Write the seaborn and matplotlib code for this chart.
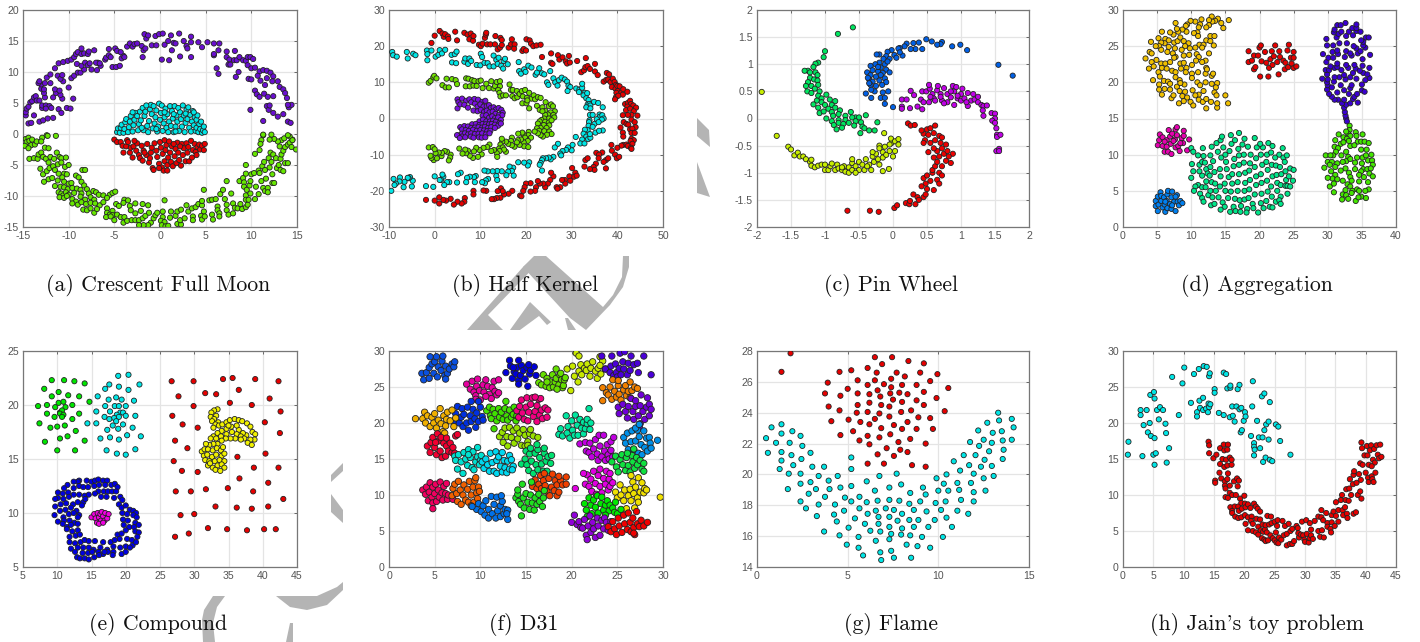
import matplotlib
matplotlib.use("Agg")
import matplotlib.pyplot as plt
from matplotlib.patches import Polygon
import pandas as pd
import seaborn as sns

# (a) crescent full moon
moon_purple = [(-14.7,3.0),(-14.7,3.5),(-14.6,4.1),(-14.4,1.7),(-14.1,1.8),(-14.4,4.4),(-14.2,5.1),(-14.0,5.3),(-13.8,5.9),(-13.6,6.1),(-13.5,5.4),(-13.8,3.0),(-13.2,5.4),(-12.9,4.2),(-12.9,4.6),(-12.5,4.6),(-12.1,4.5),(-12.5,4.1),(-11.9,4.2),(-13.2,2.0),(-12.8,2.2),(-12.3,2.5),(-11.7,2.6),(-11.1,4.0),(-10.8,3.4),(-10.2,4.2),(-9.8,4.1),(-9.5,5.7),(-10.7,5.7),(-11.4,6.6),(-10.9,6.3),(-11.7,5.9),(-12.6,5.9),(-12.7,6.6),(-13.0,7.3),(-13.0,8.0),(-12.7,7.2),(-13.3,8.2),(-13.2,8.5),(-12.6,8.2),(-12.0,8.2),(-11.5,7.2),(-11.0,7.0),(-10.6,8.5),(-10.0,7.5),(-12.4,9.1),(-12.0,9.6),(-11.2,9.4),(-10.9,8.9),(-10.7,9.5),(-9.7,9.0),(-9.4,9.4),(-9.0,9.9),(-8.7,9.9),(-8.3,10.4),(-7.5,10.4),(-6.9,10.3),(-6.5,11.0),(-6.8,11.5),(-11.5,10.6),(-11.1,11.4),(-10.6,11.6),(-10.1,11.8),(-9.7,12.0),(-9.4,12.4),(-9.2,12.9),(-9.0,13.2),(-8.6,12.9),(-8.3,13.0),(-7.9,12.9),(-7.8,13.3),(-7.2,13.5),(-8.6,13.8),(-9.1,11.3),(-8.6,11.0),(-8.2,11.5),(-7.9,11.1),(-7.7,11.4),(-7.0,11.5),(-6.6,11.4),(-6.0,12.0),(-5.9,12.3),(-5.6,12.7),(-5.4,12.4),(-5.6,13.7),(-5.2,10.8),(-4.8,10.8),(-4.4,11.0),(-4.2,12.2),(-4.0,12.6),(-4.9,13.8),(-4.7,13.4),(-4.3,13.2),(-3.9,12.4),(-3.6,14.1),(-3.3,14.6),(-3.0,14.1),(-2.8,14.5),(-2.5,14.6),(-2.0,14.2),(-1.8,13.5),(-1.9,12.4),(-1.6,13.8),(-1.5,15.4),(-1.7,16.1),(-1.3,15.9),(-0.9,14.3),(-0.4,14.3),(-0.5,15.8),(-0.1,16.1),(0.3,16.2),(0.5,14.4),(0.2,12.0),(1.0,11.9),(0.9,15.0),(1.2,15.9),(1.5,14.7),(1.3,13.5),(1.7,14.6),(2.1,16.2),(2.2,12.5),(2.6,15.0),(2.9,14.2),(3.0,13.8),(3.4,14.8),(3.4,12.4),(3.4,15.7),(4.2,14.8),(4.6,14.0),(5.2,14.8),(5.9,14.6),(5.9,12.7),(6.5,14.6),(6.4,13.5),(5.9,12.9),(6.2,10.6),(6.4,9.7),(7.3,13.3),(7.3,12.4),(7.6,12.0),(7.5,11.2),(7.7,11.2),(8.2,13.4),(8.1,11.9),(8.4,11.9),(8.3,9.2),(8.6,10.0),(8.7,12.4),(9.1,11.9),(9.4,11.8),(9.6,12.4),(9.9,12.4),(10.2,12.1),(9.7,8.9),(10.0,8.8),(9.6,11.1),(10.0,10.6),(10.4,10.7),(10.9,10.1),(10.7,9.4),(11.3,10.3),(11.7,10.2),(12.1,9.9),(12.4,9.3),(11.7,9.0),(11.0,8.6),(11.5,7.9),(10.4,7.0),(10.6,6.4),(10.9,6.0),(11.4,6.5),(11.8,6.0),(12.4,6.1),(12.3,8.5),(12.9,8.5),(13.1,7.6),(13.5,7.2),(13.7,6.6),(13.9,5.8),(11.3,2.1),(11.7,4.5),(11.9,3.9),(12.0,4.6),(12.4,3.4),(12.9,2.8),(13.5,3.2),(14.0,2.0),(14.3,1.8),(14.1,4.3),(14.4,4.7),(14.0,4.7),(9.9,3.9)]
moon_green = [(-14.7,-0.8),(-14.6,-1.3),(-14.8,-1.9),(-14.4,-0.6),(-14.3,-1.1),(-14.1,-1.8),(-14.0,-0.9),(-13.7,-1.7),(-13.5,-1.2),(-14.4,-2.3),(-14.3,-4.0),(-13.8,-3.9),(-13.4,-4.0),(-13.3,-3.3),(-13.0,-3.0),(-12.8,-3.7),(-12.9,-0.6),(-13.0,-1.2),(-12.4,-0.2),(-12.3,-0.3),(-11.4,-0.3),(-12.6,-2.2),(-12.2,-2.3),(-12.5,-4.0),(-12.0,-3.7),(-11.6,-4.0),(-12.2,-4.6),(-11.3,-3.0),(-11.0,-3.7),(-10.8,-3.9),(-10.3,-3.8),(-11.2,-4.9),(-10.8,-4.6),(-10.4,-5.3),(-10.0,-5.0),(-13.1,-5.6),(-12.8,-6.5),(-12.4,-6.0),(-12.1,-5.5),(-11.7,-5.2),(-11.5,-5.8),(-11.1,-6.4),(-10.5,-6.4),(-10.2,-6.5),(-9.2,-6.7),(-8.5,-5.8),(-8.2,-5.8),(-12.7,-7.7),(-12.2,-7.3),(-11.8,-7.1),(-11.2,-7.5),(-10.7,-7.0),(-10.5,-7.7),(-10.0,-8.0),(-9.7,-7.9),(-8.9,-7.0),(-8.6,-7.7),(-8.3,-8.3),(-11.5,-8.4),(-10.9,-8.5),(-10.5,-8.6),(-10.1,-8.9),(-9.6,-8.7),(-9.1,-8.8),(-8.7,-9.0),(-8.0,-8.9),(-11.1,-9.4),(-10.8,-9.6),(-10.6,-9.9),(-10.3,-9.4),(-10.0,-9.8),(-9.4,-9.5),(-8.6,-9.6),(-7.8,-9.6),(-7.3,-9.2),(-7.0,-9.4),(-6.7,-9.8),(-11.0,-10.2),(-10.5,-10.3),(-10.2,-10.0),(-9.6,-10.5),(-9.2,-10.9),(-8.7,-10.1),(-8.2,-10.6),(-7.6,-10.2),(-7.2,-10.6),(-6.2,-9.9),(-5.5,-9.8),(-5.2,-9.5),(-4.9,-9.3),(-5.8,-10.3),(-9.6,-11.2),(-9.0,-11.4),(-8.6,-11.0),(-8.1,-11.3),(-7.6,-11.1),(-7.1,-11.2),(-6.6,-11.5),(-6.2,-11.0),(-8.4,-12.2),(-8.0,-12.3),(-7.6,-12.0),(-7.2,-12.7),(-6.9,-12.1),(-5.8,-12.0),(-5.2,-12.4),(-4.8,-11.3),(-4.5,-11.6),(-3.9,-10.6),(-3.5,-10.7),(-4.0,-11.1),(-2.7,-11.2),(-3.3,-11.6),(-5.8,-12.7),(-5.5,-13.0),(-5.2,-13.1),(-4.7,-13.0),(-4.3,-13.4),(-5.9,-13.4),(-5.4,-13.3),(-5.0,-13.9),(-3.9,-13.4),(-4.0,-14.3),(-3.6,-14.0),(-3.1,-13.9),(-2.7,-13.9),(-2.3,-13.9),(-1.9,-13.6),(-1.6,-13.2),(-1.2,-12.7),(-2.1,-12.4),(-3.2,-12.3),(-1.9,-11.3),(-2.7,-12.8),(-1.3,-11.5),(-1.0,-14.3),(-1.3,-14.7),(-1.8,-14.7),(-2.3,-14.7),(-0.7,-13.6),(-0.5,-13.1),(-0.3,-12.7),(0.3,-12.5),(0.3,-13.4),(0.5,-10.7),(0.1,-14.0),(0.5,-14.2),(0.2,-14.7),(0.6,-14.9),(0.9,-14.8),(1.1,-13.5),(1.2,-12.5),(1.7,-13.2),(1.9,-12.5),(1.9,-14.5),(2.3,-14.6),(2.2,-13.9),(2.3,-12.2),(2.7,-13.6),(2.9,-11.5),(3.1,-12.5),(3.5,-12.0),(3.6,-13.3),(3.6,-13.9),(3.9,-11.8),(4.2,-11.3),(4.6,-11.5),(4.6,-10.8),(4.8,-12.5),(4.5,-13.2),(4.6,-13.8),(4.9,-13.3),(4.8,-9.0),(5.4,-10.7),(5.7,-10.6),(5.7,-13.0),(5.8,-13.8),(6.1,-10.5),(6.3,-11.7),(6.3,-12.3),(6.5,-12.8),(6.5,-13.3),(6.6,-9.7),(6.9,-9.0),(7.1,-10.5),(7.3,-11.4),(7.3,-12.3),(7.5,-13.0),(7.3,-7.6),(7.8,-9.6),(8.0,-11.2),(8.2,-11.9),(8.0,-12.8),(8.5,-12.0),(8.8,-11.3),(9.0,-12.1),(8.7,-7.6),(9.1,-7.1),(9.2,-7.8),(9.4,-6.4),(9.2,-8.5),(9.5,-9.0),(9.4,-9.9),(9.4,-10.6),(9.4,-11.8),(9.6,-11.4),(9.7,-10.6),(9.9,-9.6),(9.8,-8.3),(9.9,-7.6),(10.0,-6.5),(9.4,-5.0),(10.3,-6.3),(10.4,-10.5),(10.5,-8.5),(10.8,-9.7),(10.8,-5.9),(10.9,-6.3),(11.1,-7.6),(11.2,-5.2),(11.3,-8.7),(11.4,-4.5),(11.5,-5.8),(11.6,-7.2),(11.5,-9.2),(11.8,-8.7),(11.8,-9.4),(11.9,-3.9),(12.0,-5.4),(12.2,-4.5),(12.3,-6.5),(12.3,-7.9),(12.5,-7.9),(12.1,-3.0),(12.4,-3.3),(12.7,-3.9),(12.8,-5.5),(13.2,-5.8),(13.5,-6.0),(13.0,-5.0),(13.2,-4.0),(13.3,-3.3),(13.5,-2.7),(13.7,-4.7),(14.0,-4.7),(13.7,-2.1),(14.0,-1.7),(14.2,-1.4),(14.5,-0.9),(14.4,-2.1),(14.9,-2.5),(14.2,-0.4),(14.5,-1.0),(13.3,-1.0),(13.6,-0.7),(14.0,-0.2),(13.1,-2.0),(12.9,-1.2),(12.5,-0.8),(11.3,-0.2),(11.3,-0.1),(12.2,-0.1),(11.1,-1.0),(11.0,-1.6),(10.9,-2.6),(12.0,-0.9),(10.4,-3.2)]
moon_cyan = [(-4.7,0.3),(-4.6,0.9),(-4.4,0.2),(-4.3,1.0),(-4.2,1.5),(-4.0,0.2),(-3.9,0.8),(-3.8,1.9),(-3.7,2.4),(-3.5,0.3),(-3.4,1.1),(-3.3,2.0),(-3.2,2.9),(-3.0,0.4),(-2.9,1.4),(-2.8,2.3),(-2.7,3.4),(-2.5,2.9),(-2.4,0.6),(-2.3,1.6),(-2.2,3.6),(-2.1,2.2),(-1.9,4.2),(-1.8,0.6),(-1.7,2.9),(-1.6,3.6),(-1.4,1.3),(-1.3,0.3),(-1.2,2.1),(-1.1,4.0),(-1.0,4.7),(-0.9,3.2),(-0.8,0.9),(-0.7,4.5),(-0.6,1.7),(-0.5,2.7),(-0.4,3.8),(-0.3,0.4),(-0.2,1.2),(-0.1,4.9),(0.0,2.3),(0.1,3.4),(0.2,4.6),(0.3,0.5),(0.4,1.7),(0.5,2.7),(0.6,4.1),(0.7,1.0),(0.8,3.2),(0.9,0.3),(1.0,2.0),(1.1,4.5),(1.2,1.3),(1.3,3.7),(1.4,2.5),(1.5,0.3),(1.6,4.5),(1.7,1.2),(1.8,3.0),(1.9,2.0),(2.0,4.2),(2.1,0.5),(2.2,3.5),(2.3,2.4),(2.4,1.2),(2.5,4.6),(2.6,3.0),(2.7,0.3),(2.8,1.8),(2.9,3.9),(3.0,2.4),(3.1,4.3),(3.2,1.0),(3.3,3.1),(3.4,0.4),(3.5,2.0),(3.6,3.7),(3.7,1.4),(3.8,2.7),(3.9,0.5),(4.0,1.0),(4.0,2.3),(4.1,3.0),(4.2,0.3),(4.3,1.6),(4.4,0.8),(4.5,2.0),(4.6,0.2),(4.7,0.6),(4.8,1.2),(4.9,0.3),(-1.5,4.6),(-3.0,3.5),(0.5,3.5),(1.7,0.4),(-2.0,1.0),(2.8,3.3),(-0.4,0.8),(1.5,3.2),(3.7,3.5)]
moon_red = [(-5.0,-0.9),(-4.7,-1.3),(-4.3,-1.3),(-4.1,-1.9),(-3.6,-1.0),(-3.7,-2.0),(-3.5,-1.3),(-4.0,-3.0),(-3.3,-3.0),(-3.2,-2.2),(-3.0,-3.8),(-2.9,-2.0),(-2.6,-2.7),(-2.5,-1.5),(-2.3,-3.4),(-2.2,-3.9),(-2.0,-1.9),(-1.9,-4.3),(-1.8,-2.7),(-1.5,-3.4),(-1.4,-1.6),(-1.2,-4.6),(-1.0,-3.0),(-0.9,-2.2),(-0.8,-5.5),(-0.7,-5.8),(-0.6,-1.5),(-0.4,-2.7),(-0.3,-3.7),(-0.1,-4.8),(0.0,-1.3),(0.1,-2.2),(0.2,-5.4),(0.3,-3.2),(0.4,-5.9),(0.5,-1.0),(0.5,-4.4),(0.6,-2.6),(0.7,-1.8),(0.8,-5.0),(0.8,-5.9),(0.9,-3.8),(1.0,-1.2),(1.1,-3.0),(1.2,-4.5),(1.3,-2.0),(1.4,-5.2),(1.6,-3.6),(1.7,-2.4),(1.8,-4.7),(1.9,-1.4),(2.0,-3.0),(2.1,-4.2),(2.3,-5.1),(2.4,-1.6),(2.5,-3.4),(2.6,-2.3),(2.8,-4.4),(2.9,-1.5),(3.0,-3.0),(3.1,-2.1),(3.2,-4.4),(3.4,-1.1),(3.5,-3.8),(3.6,-2.6),(3.8,-1.6),(3.9,-2.9),(4.0,-3.4),(4.1,-2.1),(4.3,-1.7),(4.4,-2.5),(4.6,-1.9),(4.8,-2.6),(4.9,-1.6),(-2.8,-1.1),(-1.1,-3.9),(1.5,-1.6),(-0.1,-5.5),(-1.7,-3.0),(2.2,-2.0)]

# (b) half kernel
kernel_purple = [(5,5.3),(5.2,4.5),(6,5.5),(6.9,4.9),(7.6,5.3),(8.7,5.4),(9.5,5.2),(10.4,4.6),(11.1,4.9),(5,2.8),(5.6,3.9),(6.5,3.8),(7.3,3.0),(8,4.5),(8.8,4.1),(9.4,3.3),(10,3.9),(10.7,3.3),(11.4,3.4),(11.9,3.7),(12.3,2.9),(12.9,3.1),(13.4,2.5),(14,2.9),(14.6,2.4),(14.9,1.6),(8.5,2.2),(9.4,2.0),(10.1,2.4),(10.8,1.8),(11.4,2.2),(12,1.7),(12.7,1.9),(13.3,1.3),(14.1,1.0),(14.8,0.9),(10.5,0.8),(11.3,0.9),(11.9,0.2),(12.6,0.6),(13.2,0.1),(13.9,0.3),(14.5,-0.4),(9.8,-0.8),(10.6,-0.3),(11.3,-0.8),(12.1,-0.8),(12.8,-0.6),(13.4,-0.9),(14.2,-1.2),(8.2,-1.6),(9,-1.5),(9.8,-1.8),(10.5,-1.5),(11.2,-1.6),(11.9,-1.6),(12.5,-1.5),(13.2,-1.7),(13.9,-2.0),(14.5,-1.4),(5.6,-2.4),(6.5,-2.1),(7.3,-2.2),(8,-2.6),(8.8,-2.5),(9.6,-2.4),(10.4,-2.5),(11,-2.3),(11.7,-2.6),(12.4,-2.4),(13.2,-2.6),(6,-3.0),(6.8,-3.2),(7.5,-3.4),(8.4,-3.1),(9.2,-3.4),(10,-3.2),(10.8,-3.3),(11.5,-3.5),(12.2,-3.4),(5.2,-4.7),(5.9,-4.2),(6.6,-4.1),(7.3,-4.4),(8,-4.1),(8.8,-4.3),(9.6,-4.2),(10.4,-4.1),(11.2,-4.4),(12,-4.1),(4.9,-4.6),(6,-5.0),(6.7,-5.2),(7.9,-5.0),(8.5,-5.3),(9.7,-5.2),(10.3,-5.3),(11.1,-5.2),(5.5,-5.4)]
kernel_green = [(-1.3,9.9),(-0.9,10.4),(-0.3,11.4),(-0.1,11.8),(0.4,11.1),(1.7,9.2),(2.4,8.6),(2.6,11),(3.1,8.6),(3.8,10.9),(4.6,10.6),(4.9,9.5),(6.8,8.9),(6.9,11.1),(7.4,11),(7.7,8.9),(8.2,10.6),(8.5,9.1),(8.7,10.4),(9.2,9),(9.6,10.3),(10.1,10.5),(10.5,8.4),(11.3,9.6),(11.9,8.4),(12.4,10.3),(12.9,8.3),(13.2,9),(13.6,10.1),(14.3,10.3),(14.3,8.9),(13.9,7.9),(14.2,7.1),(14.4,6.1),(15,6.4),(15.6,6.4),(16.4,9.4),(16.7,7.9),(17.1,7.9),(17,6.2),(17.5,5.6),(18,7.6),(18.1,5.9),(18.6,6.8),(19.1,7.6),(19.3,6.1),(19.8,7.9),(20.2,5.7),(20.7,7.1),(21.2,5.5),(21.7,6.4),(22,5.3),(22.6,5.9),(23.2,5.7),(19.2,4.2),(20.1,4.2),(20.3,5.0),(20.7,2.8),(22.4,3.5),(23,2.4),(23.6,3.1),(24.2,2.1),(24.3,4.5),(25,3.4),(25.5,3.9),(25.9,3.4),(26.3,2.0),(25.4,1.7),(24.8,1.1),(24.2,1.0),(23.6,2.0),(26,1.0),(26.2,0.3),(25,0),(24,0),(23.4,-0.4),(23,-0.8),(24.2,-0.9),(25,-1.1),(25.6,-0.5),(22.6,-1.4),(23.9,-1.8),(25.1,-1.9),(24.5,-2.6),(23.2,-2.6),(22.4,-2.7),(22.9,-3.4),(24,-3.5),(25.1,-3.6),(25.6,-4.3),(24.6,-4.5),(23.7,-5.0),(23.2,-4.6),(22.6,-4.1),(21.9,-3.6),(20.6,-3.7),(20.5,-4.6),(19.5,-4.5),(19.2,-3.9),(18.3,-4.2),(21.1,-5.3),(19.8,-5.3),(20.4,-6.2),(19.5,-6.6),(18.9,-5.8),(18.2,-6.0),(19.6,-7.7),(20.5,-7.9),(18.6,-7.3),(18,-6.6),(17.5,-7.8),(16.9,-5.3),(16.7,-6.2),(16.9,-7.4),(16.1,-7.0),(15.6,-6.4),(14.8,-6.4),(14.7,-5.6),(14.4,-7.2),(14.1,-8.3),(14.9,-8.0),(15.6,-9.2),(15.2,-8.6),(14.2,-9.0),(13.6,-9.6),(13.7,-10.6),(13,-8.7),(12.4,-9.0),(12,-7.2),(11.5,-7.9),(10.7,-8.1),(10.3,-9.9),(9.8,-8.7),(9.5,-10.6),(9.1,-8.1),(8.6,-9.1),(8.4,-10.9),(7.7,-10.3),(7.3,-8.9),(6.9,-9.6),(6.7,-8.6),(6.1,-9.7),(5.4,-8.3),(3.5,-10),(3.4,-10.8),(3.1,-11.6),(2.7,-9.2),(2.2,-9.0),(1.5,-10.4),(1.6,-9.5),(0.9,-9.4),(0.2,-9.6),(-0.2,-11.5),(-0.7,-10.9),(-0.9,-10.3),(-1.3,-8),(-0.4,-7.9),(0,-8.5),(0.5,-11)]
kernel_cyan = [(-9.3,18.4),(-9.1,17.5),(-8.3,17.1),(-6.1,18.4),(-5.9,16.6),(-4.7,17.9),(-4.2,17.5),(-1.7,18.8),(-1.6,17.8),(-1.6,16.1),(-0.7,18.8),(0.2,17.1),(0.8,17.6),(1.1,18.9),(1.6,18),(2.3,19),(3.7,17.6),(3.8,15.5),(4.4,17.8),(4.7,15.3),(4.8,18.5),(6.5,15.7),(6.7,16.6),(7.3,15.1),(7.6,16.6),(8,15.9),(9.2,14.8),(10,14.7),(10.1,17.9),(10.4,17),(10.9,15.4),(11.6,15.3),(12,14.4),(12.9,14.4),(12.9,17.4),(13.5,16.2),(14,16.8),(13.8,15.1),(14.6,14.6),(15.1,15.9),(15,13.8),(15.4,16.5),(16,15),(18.4,15.6),(18.5,13.1),(18.9,12.4),(19.6,13.6),(19.9,12.9),(20.5,14.6),(21.2,14.1),(22.1,12.1),(22.4,12.7),(22.9,13.9),(23.5,12.5),(24,12.2),(24.6,10),(24.9,9.3),(25.3,13.1),(26,11.1),(26.4,10),(26.9,9.1),(27.2,10.6),(27.8,11.3),(28.5,10.8),(29,10.2),(29.3,9.1),(29.7,8.7),(29.1,7.6),(31,8.3),(31.7,8.0),(31.6,7.3),(32.3,8.5),(32.3,9.6),(32.9,7.1),(32.6,6.4),(33.4,7),(33.2,5.6),(33.7,5.1),(33.5,3.9),(33.9,4.0),(34.1,3.6),(33.2,3.1),(34.1,2.8),(34.9,4.6),(35.8,4.3),(36.8,3.1),(36.1,1.1),(36.2,0.5),(36.7,0.9),(37,0),(36.6,-0.3),(35.5,-0.2),(34,1),(34.6,1.0),(33.9,-0.5),(33.8,-1),(35,-1.5),(35.9,-1.0),(33.7,-2),(34.6,-2.3),(36.8,-3.3),(35.2,-3.9),(36,-3.4),(33.5,-3.2),(32.9,-3.1),(32.6,-4.2),(33.2,-5),(33.6,-5.7),(34.1,-5.3),(34,-4.3),(32.3,-5.8),(30.9,-5.1),(31.9,-6.9),(32.8,-6.9),(30.2,-7.3),(30,-8.8),(29.2,-8),(28.8,-8.7),(28,-9.0),(27.5,-9.7),(27.7,-10.2),(27,-7),(26.3,-8),(26,-10.6),(25.4,-11.3),(25,-10.8),(24.4,-11),(23.7,-11),(23.5,-11.5),(23.2,-12.3),(23,-12.8),(23.5,-14.4),(20.7,-12.1),(20.4,-13),(19.6,-12.2),(18.3,-12.1),(17.2,-13.6),(16.4,-13.3),(16.9,-14.5),(17.3,-15.8),(16.1,-14.7),(15.7,-15.7),(14.7,-14.6),(13.7,-14.5),(13.5,-15.9),(13.7,-17),(12.7,-14.6),(11.6,-14.6),(10.9,-14.4),(11.7,-16.7),(11.2,-17.1),(11,-17.9),(10.4,-17.6),(9,-15.9),(8.6,-16.2),(8.8,-17.6),(7.7,-16.1),(7.1,-16.4),(6.9,-17.6),(5.7,-15),(5.1,-15.4),(4.9,-17.7),(3.2,-17.6),(2.7,-17.6),(2.1,-18.4),(1.9,-16.1),(1.7,-15.5),(1.4,-17),(1.1,-17),(0,-16),(-0.3,-18.9),(-1.9,-18.7),(-4.8,-17.2),(-5,-18.8),(-5.4,-16.2),(-5.7,-16.5),(-5.9,-16.4),(-6.6,-17.5),(-6.8,-19),(-7.6,-16.3),(-7.7,-17.4),(-8.5,-18),(-8.8,-18.4),(-9,-16.7),(-9.5,-20)]
kernel_red = [(-0.7,20.9),(0,22.9),(1.1,24.2),(1.7,23.5),(2,22.6),(2.3,23.3),(2.9,22.7),(3,22),(4.5,24),(4.9,21.6),(6.5,23.7),(7.2,23.2),(7.6,21.9),(7.9,23.5),(8.4,21.5),(8.5,22.8),(9.7,20.4),(10.1,20),(10.5,20.7),(11,22.3),(11.2,23.2),(11.3,23.7),(11.5,20.5),(12.2,20.5),(13.2,20.5),(13.3,22.8),(13.8,19.1),(14.3,19.6),(14.4,22.3),(14.7,20.3),(14.7,21.7),(16.2,19.6),(16.7,20.5),(16.9,21.9),(17.5,20.5),(17.4,19.3),(19.2,18.7),(19.5,19.2),(20,18.8),(20.1,21.9),(20.8,21.6),(21.1,20.7),(21.6,20),(22.3,20.2),(23.2,20.4),(23.5,17),(25.5,18),(25.5,15.4),(25.8,15.1),(27,17.5),(27.3,16.3),(28,16.9),(28.7,15.8),(29,15.2),(29.6,15.5),(29.4,17.3),(31.2,15.9),(32.1,12.8),(32.7,13.3),(33,14.2),(33.1,16.7),(33.5,14.5),(34,13.7),(35.1,15.1),(35.1,13),(35.7,12),(37,10.2),(37.6,10.7),(37.7,12.6),(38,10.8),(38.2,12.2),(38.5,10.1),(39,11),(39.4,10.1),(39.7,9.3),(38.8,8.7),(39.6,8.2),(40.1,7.6),(40,9),(40.5,8.9),(39.8,7.1),(40.9,7.2),(41.2,6.6),(41.3,8.1),(42.2,7.4),(39.7,5.9),(40.2,6.3),(39.5,5.3),(41.7,4),(42.3,4.3),(42.8,4.9),(43,4),(43.5,3.6),(44.1,3),(42.2,3.3),(41.9,2.3),(42.8,2.7),(43.6,2),(44.4,0.8),(43.1,1),(42.3,1),(41.2,0.9),(43.1,-0.3),(43.8,-1),(41.4,-1),(42,-1.5),(42.4,-1.7),(40.7,-2.5),(42.8,-3),(44,-2.4),(43.3,-2.8),(41.2,-3.9),(43.1,-4),(43.8,-4),(41.3,-5),(43.1,-5.6),(43.6,-6),(42.9,-6.2),(43.3,-7),(41.3,-7.3),(42,-7.2),(42.3,-7.6),(43,-8.1),(43.1,-8.4),(40.9,-7.5),(40,-8.1),(38.7,-7.3),(38.8,-8.9),(37.5,-11.5),(38,-11),(39.5,-10),(39.9,-11),(40.4,-10.6),(35.4,-9.5),(36.7,-9.4),(36,-10),(37,-12),(35.9,-11),(37.5,-13.8),(35.3,-12.5),(34.8,-13.4),(35,-14.2),(34,-14),(33,-11.5),(33.5,-11),(32.8,-13.3),(30.1,-13.7),(30.8,-15),(30.5,-16.1),(31.1,-15.8),(29.5,-16),(28.5,-17),(29.7,-17.2),(28.6,-18),(27.9,-17),(27.5,-19),(26.7,-19),(26.9,-19.4),(26,-16),(25.5,-15),(25.3,-17),(24.8,-18),(24.2,-19),(23.8,-18),(23,-18),(22.6,-17.3),(22.2,-19),(22,-20),(21,-20.2),(21,-17.9),(20,-18),(19.7,-19),(19.4,-20),(18.7,-21.3),(19,-21.5),(17,-20),(16.2,-20.8),(15.2,-21),(14.5,-19.3),(14.4,-21.9),(14.9,-20.1),(13.8,-20.1),(13.6,-22),(13,-22.3),(12.5,-22.3),(11.3,-20),(10.7,-19.9),(8.5,-20),(8.5,-21),(6.6,-22),(6.5,-23),(5.9,-23.5),(5,-23),(4.2,-23.8),(3.5,-22.2),(2.5,-22.7),(1.9,-22.5),(1,-23.5),(1,-21.8),(0,-22.7),(-1.9,-22.5)]

# (c) pin wheel
wheel_blue = [(1.76,0.79),(1.55,0.99),(1.09,1.26),(0.99,1.36),(0.87,1.33),(0.72,1.41),(0.7,1.37),(0.65,1.36),(0.49,1.46),(0.57,1.42),(0.43,1.28),(0.38,1.4),(0.33,1.28),(0.3,1.39),(0.2,1.38),(0.17,1.33),(0.1,1.3),(0.08,1.29),(-0.02,1.26),(0.02,1.17),(-0.08,1.23),(-0.1,1.15),(-0.2,1.18),(0.14,1.16),(-0.24,1.18),(-0.14,1.1),(-0.05,1.1),(0.05,1.12),(-0.2,1.03),(-0.12,1.0),(-0.18,0.94),(-0.26,1),(-0.33,0.97),(-0.3,0.89),(-0.22,0.87),(-0.1,0.9),(-0.05,0.85),(-0.15,0.84),(-0.38,0.85),(-0.33,0.8),(-0.25,0.77),(-0.18,0.8),(-0.12,0.74),(-0.35,0.72),(-0.3,0.68),(-0.2,0.7),(-0.1,0.67),(-0.33,0.62),(-0.25,0.6),(-0.16,0.62),(-0.27,0.5),(-0.32,0.53),(-0.15,0.48),(-0.07,0.5),(-0.4,0.46),(-0.32,0.38),(-0.18,0.38),(-0.12,0.38),(-0.12,0.27),(-0.37,0.75),(-0.35,0.65),(-0.22,0.95),(0.0,0.21),(0.26,1.28),(-0.08,1.05),(0.1,1.22)]
wheel_magenta = [(0.13,0.35),(0.2,0.35),(0.26,0.51),(0.31,0.43),(0.13,0.22),(0.13,0.18),(0.25,0.19),(0.36,0.22),(0.43,0.17),(0.41,0.35),(0.43,0.5),(0.49,0.5),(0.54,0.55),(0.53,0.62),(0.58,0.45),(0.45,0.3),(0.53,0.3),(0.6,0.37),(0.65,0.52),(0.66,0.6),(0.7,0.45),(0.72,0.33),(0.75,0.56),(0.8,0.45),(0.8,0.3),(0.85,0.39),(0.88,0.6),(0.9,0.5),(0.9,0.25),(0.95,0.37),(0.93,0.58),(1,0.45),(1,0.33),(1.05,0.37),(1.1,0.47),(1.1,0.23),(1.15,0.33),(1.18,0.45),(1.2,0.35),(1.25,0.4),(1.25,0.3),(1.3,0.25),(1.33,0.23),(1.38,0.24),(1.32,0.15),(1.33,0.05),(1.45,0.1),(1.5,0.09),(1.5,0),(1.46,-0.04),(1.5,-0.08),(1.52,-0.18),(1.53,-0.3),(1.53,-0.34),(1.58,-0.3),(1.52,-0.6),(1.56,-0.56),(1.56,-0.6),(0.7,0.4),(0.55,0.4),(0.95,0.42),(1.08,0.3),(0.75,0.28),(0.62,0.33),(0.85,0.5),(1.02,0.55)]
wheel_green = [(-0.59,1.68),(-0.81,1.56),(-1,1.24),(-1.02,1.13),(-1.1,1.03),(-1.14,1.01),(-1.17,0.95),(-1.25,0.88),(-1.3,0.88),(-1.22,0.85),(-1.14,0.85),(-1.11,0.8),(-1.22,0.75),(-1.16,0.72),(-1.25,0.67),(-1.11,0.7),(-1.28,0.6),(-1.2,0.6),(-1.1,0.62),(-1.26,0.5),(-1.15,0.55),(-1.08,0.5),(-1.2,0.47),(-1.1,0.42),(-0.98,0.44),(-1.05,0.37),(-1.12,0.33),(-1.05,0.3),(-0.93,0.35),(-0.85,0.32),(-1.17,0.26),(-1,0.25),(-0.9,0.25),(-1.1,0.2),(-0.95,0.18),(-0.85,0.2),(-1.08,0.1),(-1.02,0.13),(-0.9,0.12),(-0.78,0.15),(-0.98,0.0),(-0.88,0.05),(-0.8,0.08),(-0.7,0.05),(-0.62,0.12),(-0.55,0.02),(-0.9,-0.05),(-0.8,-0.03),(-0.7,-0.03),(-0.6,0.02),(-0.5,0.02),(-0.87,-0.12),(-0.8,-0.08),(-0.73,-0.1),(-0.65,-0.08),(-0.55,-0.05),(-0.83,-0.2),(-0.75,-0.17),(-0.57,-0.13),(-0.47,-0.07),(-0.45,-0.15),(-0.4,0.06),(-0.23,-0.07),(-0.42,-0.18),(-0.35,-0.22),(-0.27,-0.22),(-0.48,-0.27)]
wheel_yellow = [(-1.93,0.49),(-1.71,-0.32),(-1.54,-0.52),(-1.5,-0.57),(-1.45,-0.68),(-1.4,-0.63),(-1.37,-0.7),(-1.32,-0.7),(-1.28,-0.75),(-1.22,-0.8),(-1.2,-0.76),(-1.2,-0.87),(-1.15,-0.9),(-1.1,-0.87),(-1.05,-0.85),(-1,-0.85),(-1,-0.95),(-0.95,-0.95),(-0.92,-0.88),(-0.9,-0.83),(-0.85,-0.95),(-0.82,-0.85),(-0.8,-0.92),(-0.75,-0.95),(-0.72,-0.88),(-0.7,-0.98),(-0.65,-1),(-0.65,-0.9),(-0.6,-0.95),(-0.6,-0.82),(-0.55,-0.88),(-0.5,-0.95),(-0.5,-0.8),(-0.45,-0.85),(-0.42,-0.95),(-0.4,-0.75),(-0.35,-0.85),(-0.3,-0.7),(-0.32,-0.95),(-0.28,-0.8),(-0.25,-0.65),(-0.22,-0.75),(-0.2,-0.85),(-0.15,-0.62),(-0.15,-0.72),(-0.1,-0.67),(-0.05,-0.6),(-0.15,-0.97),(-0.06,-0.93),(0,-0.7),(-0.02,-0.45),(-0.12,-0.52),(-0.05,-0.48),(-0.03,-0.37),(0.03,-0.42),(0.08,-0.38),(0.03,-0.6),(0.08,-0.48),(-0.13,-0.27),(-0.2,-0.5),(-0.2,-0.55),(-0.3,-0.62),(-0.38,-0.88),(-0.55,-1),(-0.75,-0.9),(-0.6,-0.75)]
wheel_red = [(-0.67,-1.7),(-0.34,-1.7),(-0.21,-1.72),(0.02,-1.65),(0.06,-1.6),(0.19,-1.56),(0.24,-1.58),(0.25,-1.52),(0.3,-1.4),(0.33,-1.58),(0.36,-1.45),(0.38,-1.5),(0.45,-1.45),(0.48,-1.4),(0.48,-1.2),(0.42,-1.25),(0.45,-1.1),(0.5,-1.3),(0.55,-1.15),(0.5,-1.05),(0.58,-1.0),(0.65,-1.13),(0.58,-0.95),(0.6,-1.32),(0.68,-1.2),(0.62,-0.88),(0.68,-1),(0.72,-1.05),(0.65,-0.8),(0.72,-0.88),(0.6,-0.72),(0.68,-0.7),(0.78,-0.78),(0.85,-0.82),(0.88,-0.65),(0.82,-0.7),(0.75,-0.65),(0.65,-0.6),(0.72,-0.55),(0.8,-0.6),(0.52,-0.62),(0.6,-0.55),(0.7,-0.45),(0.78,-0.48),(0.55,-0.45),(0.62,-0.4),(0.68,-0.32),(0.72,-0.35),(0.45,-0.28),(0.52,-0.3),(0.6,-0.27),(0.47,-0.4),(0.45,-0.45),(0.42,-0.22),(0.5,-0.2),(0.55,-0.18),(0.62,-0.13),(0.22,-0.09),(0.26,-0.13),(0.32,-0.12)]

# (d) aggregation
agg_yellow = [(15.5,28.6),(14.7,27.5),(14.4,28.2),(13.9,28.8),(13.5,28.5),(13.1,28.4),(13,29.1),(12.6,28.6),(12.6,27.9),(12.2,27.6),(11.5,28.7),(11.3,28),(11.1,27.6),(10.6,28.4),(10.9,26.9),(9.9,28.5),(9.4,28),(9.2,27.8),(9.3,27),(8.7,27.3),(8.1,27),(7.7,28.2),(7.9,27.4),(7.4,26.6),(6.9,26.9),(5.7,27),(5.2,26.1),(6.2,26),(6.7,25.8),(7.5,25.5),(8,25.7),(8.4,26.2),(8.9,25.7),(9.6,25.4),(10.4,26.8),(11,26.4),(12.2,25.8),(12.8,26.4),(13.4,26.4),(12.8,25.7),(13.3,25.1),(11.2,25.2),(11.8,25.2),(10.6,24.8),(9.1,25),(8.6,24.5),(7.6,24.7),(6.7,24.9),(6.1,25.4),(5.6,25.5),(5.3,25),(4.8,25),(4.1,25.6),(3.9,24.2),(4.2,24),(5.6,24.5),(6.5,24.2),(7.3,24),(7.7,23.5),(8.9,23.7),(9.7,23.8),(10.8,23.9),(11.1,23.5),(11.6,24.8),(12.1,23),(12.6,24),(4.9,23.1),(3.3,23.3),(4.2,22.8),(5.6,22.6),(6.2,22.6),(6.9,22.8),(7.5,23.4),(8.4,22.6),(8.9,22.7),(9.3,22),(10.1,22.4),(10.7,23),(11.6,22.8),(12.2,22),(3.8,21.9),(4.5,22.2),(5.2,21.4),(5.7,22),(6.4,21.9),(7.2,21.6),(7.7,21.4),(8.5,21.9),(9.2,21.4),(10.1,21.2),(11,21.4),(12.1,21.2),(12.3,21.8),(13,20.9),(13.2,21.2),(4.4,20.3),(5.4,20.8),(6,20.2),(6.6,20.1),(6.9,19.8),(7.7,20.7),(8.3,20.3),(9,19.7),(10.1,20.6),(10.9,20),(11.3,19.6),(12.1,20),(13,19.8),(13.8,19.9),(13.6,19.3),(5.3,19.7),(5.3,19),(6.1,19.1),(6.9,19),(7.9,19.4),(8.3,18.8),(9.1,18.7),(10.2,18.9),(11.1,18.3),(11.8,18.8),(13.4,18.6),(13.7,18.2),(5.7,18.3),(7.1,17.8),(7.4,18.2),(8.7,18.1),(9.4,17.9),(8.2,17.1),(8.9,17.4),(9.9,17.3),(10.3,16.8),(11.1,17.6),(11.7,17.3),(12.2,17.7),(12.2,16.4),(12.9,17.3),(13.8,16.5),(13.8,17.1),(15,18.2),(15.4,17.1),(10.6,18.2),(8.4,19.9),(9.8,24.7)]
agg_red = [(18.4,24.3),(18.4,22.8),(18.9,23),(19.2,23.7),(19.2,21.8),(19.4,22.1),(19.8,23.7),(20,24.8),(20.2,25.1),(20.1,20.8),(20.3,22.9),(20.8,24.2),(21,22.7),(21.3,20.8),(21.4,22),(21.6,23.2),(21.8,24.3),(21.9,22.4),(22.1,23.6),(22.3,25.1),(22.6,22.8),(22.8,21.1),(22.9,24.3),(23,23.5),(23.5,23),(23.7,21.8),(23.8,22.7),(24.1,24.4),(24.3,25.2),(24.6,23.4),(24.2,22.1),(25,24.2),(25,22),(25.4,22.2),(25,23.4),(24.7,22.6)]
agg_blue_top = [(32.7,15),(32.8,14.6),(32.6,15.4),(32.5,15.9),(32.4,16.5),(32.7,16.9),(33.3,17.1),(34.4,17.2),(33.7,17.7),(32.1,17.1),(32.4,17.6),(31.5,17.6),(31,17.6),(30.6,18),(30.2,18.4),(33.9,18),(34.3,18.4),(31.4,18.6),(32.4,18.9),(33.1,18.4),(29.9,19),(30,19.6),(30.6,19.3),(31.9,19.6),(33.3,19.2),(35,18.9),(35.4,18.7),(29.9,20),(30,20.4),(30.9,20.1),(31.7,20.7),(32.6,20.4),(33.5,19.6),(34.2,20.5),(35,19.7),(36.1,20.6),(29.2,20.5),(29.9,21.1),(31,20.7),(32.4,21),(33.3,20.7),(33.7,21.3),(35.2,21.3),(35.5,20.3),(29.7,21.7),(30.2,21.7),(31,22),(31.4,22.1),(32,21.7),(33,22),(34.1,21.9),(34.7,21.6),(35.8,21.1),(36.1,22),(29.8,22.8),(30.4,22.2),(31.4,22.6),(32.7,22.4),(33.9,22.4),(35.1,22.3),(29.3,23.9),(30.1,23.4),(30.8,23.4),(31.5,23.9),(32.5,23.5),(33.5,23.7),(34.4,24),(35.1,23.2),(36.2,23.8),(30.7,24.2),(31.4,24.4),(32.7,24.3),(33.3,24),(34.2,24.7),(34.8,24.3),(35.5,24.8),(35.2,25.1),(29.9,25.1),(30.8,25.1),(31.7,25.4),(32.8,25.4),(33.8,25),(35.2,25.6),(29.8,26),(31.3,26.2),(32.7,26.4),(33.7,26.5),(34.9,25.8),(35.6,26.2),(36,26.2),(30.9,26.9),(31.6,26.7),(33.1,27),(34.2,27.1),(34.8,27),(31,27.3),(32,27),(33.6,27.5),(34.2,27.5),(31.4,27.9),(31.9,27.9),(32.6,28.2),(34.2,28)]
agg_magenta = [(5.1,11.3),(5.3,12),(5.4,12.8),(5.8,12.4),(5.8,11.2),(6.1,10.4),(6.4,12),(6.4,11.1),(6.6,10.4),(6.7,13.4),(6.9,12.5),(7,11.5),(7.1,10.1),(7.2,12.9),(7.6,12.1),(7.7,11),(7.7,13.5),(7.9,13.8),(7.9,12.7),(8.1,11.2),(8.3,10.5),(8.6,12.3),(8.8,11.6),(8.9,13.3),(8.9,12.6),(9.4,10.6),(9.7,12.1),(8.4,11.6),(6.1,11.8),(7.4,11.9)]
agg_blue_low = [(4.8,2.9),(4.8,3.6),(5.1,4.2),(5.2,3.1),(5.1,2.2),(5.5,4.8),(5.6,3.6),(5.8,2.7),(5.6,4.3),(6,4.1),(6.1,3.1),(6.2,2.1),(6.4,3.6),(6.5,2.6),(6.5,4.5),(6.6,5),(6.9,3.2),(7.1,4.1),(7.1,2.5),(7.2,4.9),(7.5,3.5),(7.7,2.2),(7.9,4.4),(8,3.5),(7.7,4.2),(8.2,3),(8.4,3.6),(8.7,3.3),(7.2,3),(6.2,3.5)]
agg_teal = [(10,10.9),(10.3,10.4),(11,9.9),(11.8,9.8),(11.7,10.9),(10.1,8.7),(10.3,7.7),(11.2,8.6),(11.2,7.7),(10,6.8),(11.6,9),(12,8.9),(12.2,8),(12.4,7.4),(11.6,7.1),(11,5.8),(10.6,5.6),(10.4,5),(11.6,5.5),(11.3,4.6),(12.1,5.5),(12.2,6.3),(11.6,4),(11.8,3.5),(12.5,4.4),(12.8,5),(13,6.2),(12.7,7.1),(12.8,8.3),(12.8,9.9),(13,11.1),(13.2,9.1),(13.4,7.6),(13.5,6),(13.6,5),(13.1,4.1),(12.9,3),(13.4,3.2),(14,4.1),(14.2,5.6),(14.3,7),(14.2,8),(14.4,9.6),(13.9,10.4),(13.7,11.6),(14.3,12),(14.5,12.5),(14.7,11),(15,10),(15.1,9),(15.2,8),(15.5,6.9),(14.9,6),(15,5),(14.6,3.4),(14.9,2.8),(14.3,2.4),(15.4,4),(15.8,4.9),(16,6),(16,7.3),(16.2,8.4),(16.3,9.4),(15.6,10.5),(15.9,11.5),(15.8,12.7),(16.4,12),(16.9,10.8),(17,9.9),(17,8.6),(17,7.3),(16.8,6.2),(16.8,5),(16.4,3.9),(16.2,2.8),(15.7,2.1),(16.5,2.2),(17.1,3.7),(17.3,2.9),(17.2,2.1),(17.8,3.8),(17.8,5),(17.9,6.1),(17.9,7.5),(17.7,8.9),(17.7,10),(17.5,11.4),(17.8,12.2),(17,13),(18.3,11.1),(18.7,10),(18.6,8.8),(18.5,7.8),(18.6,6.5),(18.5,5.2),(18.4,4),(18.2,2.5),(18.1,2),(19,3.2),(19.3,4.5),(19.5,5.8),(19.5,7),(19.3,8.3),(19.5,9.5),(19.6,11),(19.3,12.3),(19.1,2.6),(19.8,2),(20.2,3.3),(20.3,4.6),(20.3,6.1),(20.2,7.3),(20.4,8.6),(20.2,10),(20.5,11),(20.1,11.5),(20.6,2.6),(21,3.6),(21.2,4.9),(21.1,6.4),(21.2,7.9),(21,9),(21.1,10),(21.3,11.6),(21.9,11.2),(21.7,10.3),(21.8,8.6),(21.9,7),(21.7,5.6),(21.8,4.2),(21.5,2.8),(21.9,2.7),(22.4,3.5),(22.6,5),(22.6,6.1),(22.5,7.2),(22.4,8.5),(22.3,9.6),(22.9,10),(23,8.3),(23.2,7.3),(23.1,5.8),(23.1,4.2),(22.9,3.7),(23.1,3.2),(23.4,10.9),(23.5,9.6),(23.7,9),(23.8,7.7),(23.9,6.5),(23.8,5.7),(24.1,4.6),(24.1,5.7),(24,9.9),(24.3,7),(24.5,8.1),(25,7.9),(24.9,6.4),(24.5,5.6)]
agg_green = [(33.2,14),(33.2,13.4),(33,12.9),(32.7,13.2),(33.3,12.6),(31.6,12.8),(32.3,12.4),(32.8,12.2),(34.1,13.1),(34.2,12.6),(35.1,12.8),(31.1,12),(31.9,11.5),(32.3,11.7),(33.1,11.9),(34.4,11.8),(34.9,11.8),(35.4,11.8),(36,11.6),(31,11.1),(31.5,10.9),(32.7,10.4),(33.3,11.2),(33.9,11.3),(34.9,10.7),(35.7,10.7),(31.2,10.4),(30.8,9.9),(29.7,9.9),(30.4,9.9),(32,9.9),(33,9.7),(34.3,9.6),(35.1,9.6),(35.6,9.9),(36.4,10),(32.7,9.1),(34,8.9),(35.9,9.2),(36.5,9.2),(30,9),(30.6,9),(31.4,8.8),(32.2,9),(33.3,9.4),(35,8.8),(36.6,8.6),(29.5,8.2),(30.3,8.6),(31.1,8.3),(32.6,8.1),(34,8),(35.2,8),(35.8,8),(36.3,8.1),(30.5,7.7),(31.9,7.8),(33.1,7.5),(34.9,7.7),(36.1,7.4),(31.1,7.2),(30.7,6.7),(31.4,6.6),(33.3,6.9),(34.6,7.2),(35.3,6.9),(36.6,7),(30,6.8),(32.2,6.4),(33.5,6.4),(34.6,6.3),(35.9,6.2),(30.3,5.6),(30.9,6),(32.9,5.9),(33.3,5.6),(34.3,5.2),(36,5.2),(30.9,4.8),(32.6,5.1),(33.6,5),(34.6,5),(35.5,5),(32.2,4.5),(32.7,4.4),(33.5,4.7),(34.9,4.2),(32.1,3.8),(33,3.9),(34.1,3.6),(34.5,4.1),(35.6,4)]

# (e) compound
comp_green = [(9.2,22.3),(11,22.3),(12.5,22.2),(14,22.0),(8.1,21.5),(10.2,21.2),(9.2,20.8),(11.6,20.9),(13.2,20.8),(14.7,20.3),(9.7,19.8),(10.2,20.2),(10.9,20.3),(8.5,20),(12.2,20),(7.2,19.9),(11.2,19.8),(8.5,19.2),(10.4,19.3),(10.7,19.5),(10.4,19.2),(10.9,19.1),(10.7,18.9),(13.2,19.2),(9.6,18.9),(12.2,18.7),(7.4,18.3),(10,18),(9,17.9),(11.1,18.1),(12.7,17.6),(8.2,16.6),(10.4,16.9),(11.5,17.1),(14,16.7),(10,15.8),(12.6,15.8)]
comp_cyan = [(18.9,22.7),(20.4,22.8),(22,21.9),(17.6,21.9),(19,21.7),(17,21.5),(20.4,21.4),(15.9,20.8),(18.6,20.7),(17.5,20.5),(19.4,20.5),(21.2,20.4),(17.0,19.9),(18.4,19.9),(19,19.9),(20,19.9),(15.7,19.4),(17.7,19.4),(19.2,19.3),(19.6,19.3),(18.7,19.1),(16.9,18.9),(18.3,18.8),(19,18.9),(21.4,19),(20,19),(17.6,18.7),(18.6,18.5),(14.4,18.3),(15.7,18.3),(19.6,18.2),(18.1,18.1),(18.9,17.8),(17.3,17.7),(21,17.9),(20.2,17.2),(22.2,17.1),(16.3,16.9),(17.7,17),(19,16.8),(17.2,15.8),(21.4,15.9),(18.7,15.5),(20,15.4)]
comp_red = [(26.7,22.2),(29.9,22.2),(34.2,22.4),(35.6,22.5),(38.9,22.4),(42.3,22.2),(31.6,21.1),(33.2,21),(36.5,21.4),(27.7,20.8),(41,20.6),(35.2,20.2),(29.9,19.9),(38.4,20),(42.6,19.4),(26.8,19),(40.3,18.4),(28.3,18.2),(30.5,17.9),(42.5,17.4),(27.2,16.7),(29,16),(40.4,15.5),(36.3,15.2),(27,14.8),(38.7,14.2),(42.3,14.2),(28.2,13.9),(30.5,13.8),(36.6,13.2),(40.8,12.8),(31.7,12.2),(34.9,12.3),(27.3,12),(29.5,12),(38.6,12),(43,11.3),(33.1,10.6),(40.8,10.6),(36.2,10.5),(38.4,10.4),(28,9.8),(30,9.9),(32,8.6),(34.8,8.5),(37.7,8.4),(40.2,8.5),(41.9,8.5),(29.2,8.1),(27.2,7.8)]
comp_yellow = [(33.4,19.6),(32.9,19.5),(32.5,19.3),(33.2,19),(32.4,18.9),(32.9,18.7),(33.5,18.4),(32.6,18.5),(33.1,18.2),(32.8,17.9),(33.6,18.1),(34.1,18.2),(34.7,18.4),(35.2,18.6),(35.9,18.7),(36.5,18.6),(37,18.5),(37.7,18.3),(38.2,18),(38.5,17.5),(38.9,17.3),(38.8,16.8),(38.2,16.8),(37.8,16.5),(38.4,16.3),(37.6,17.2),(37.1,17.4),(36.5,17.7),(36.2,18.1),(35.4,18),(34.7,17.8),(34,17.6),(33.4,17.4),(32.8,17.1),(33.2,16.9),(33.9,17.1),(34.7,17.3),(35.5,17.5),(36.2,17.3),(36.8,17.1),(37.3,16.9),(36.8,16.8),(36,16.9),(35.3,16.9),(34.6,16.9),(34,16.7),(33.4,16.4),(32.8,16.4),(32.2,16.3),(31.7,16.4),(32.4,16.9),(31.1,15.7),(31.5,15.9),(32,15.9),(32.7,15.8),(33.3,16),(33.9,15.8),(34.2,16.1),(31.4,15.3),(31.9,15.4),(32.6,15.2),(33.2,15.4),(34,15.3),(34.4,15.5),(31.6,14.9),(32.2,14.8),(33,14.8),(33.7,14.9),(34.4,14.8),(32,14.4),(32.7,14.2),(33.4,14.4),(34,14.5),(34.4,14.2),(33.1,14),(33.8,13.9),(32.3,14.6),(35,18.1)]
comp_blue = [(13.2,13),(13,12.9),(14.3,13),(15,12.9),(15.5,13),(16,13.1),(16.7,13),(17.3,13),(12.4,12.9),(11.5,12.6),(11,12.3),(10.1,11.9),(10.8,11.8),(11.6,11.9),(12.4,12.3),(13.2,12.5),(13.8,12.4),(14.5,12.4),(15.4,12.5),(16.1,12.6),(17,12.6),(17.9,12.6),(18.4,12.7),(18.8,12.4),(16,12),(16.8,12),(17.4,12),(18,12),(18.6,12),(10.1,11.4),(10.9,11.3),(11.7,11.5),(12.4,11.7),(13.2,11.7),(14,11.6),(14.6,11.7),(15.5,11.8),(16.4,11.5),(17.2,11.5),(18.3,11.4),(19.2,11.5),(9.7,11.3),(10.5,10.8),(11.3,10.9),(12.3,10.8),(13,11),(13.8,11),(14.1,11.3),(9.7,10.6),(10.4,10.2),(11.2,10.3),(12,10.5),(12.8,10.2),(13.6,10.7),(19,10.8),(19.5,11.2),(19.4,10.5),(20,10.7),(20.6,10.3),(21.1,10.2),(21.5,10),(9.6,9.8),(10.9,9.6),(11.7,9.9),(12.4,10),(13.2,9.8),(19.5,10),(20.2,9.9),(21.1,9.8),(21.6,9.6),(10.1,9.2),(11,9.3),(11.8,9.3),(12.5,9.1),(13,9.6),(19.6,9.4),(20.3,9.3),(21.4,9.1),(10.8,9),(11.4,8.7),(12,8.9),(13,9),(19.7,8.9),(20.5,8.7),(21.2,8.7),(21.9,8.9),(11.4,8.5),(12.2,8.3),(13,8.4),(18.8,8),(19.4,8.1),(20,8.4),(21.4,8.3),(21.9,8.2),(11.8,7.8),(12.7,7.9),(13.3,8),(19.1,7.6),(20.2,7.6),(20.9,7.5),(21.7,7.8),(11.8,7.3),(12.6,7.2),(13.4,7.3),(14,7.5),(14.6,7.4),(15.5,7.4),(16.7,7.3),(17.8,7.3),(18.4,7.5),(20,6.9),(21,7),(21.5,7.3),(12,6.7),(13,6.8),(13.8,6.8),(14.6,6.8),(15.3,6.6),(16.3,6.8),(17.3,6.6),(18.2,6.9),(19.2,6.8),(20.6,6.8),(12.6,6.4),(13.7,6.3),(14.5,6.3),(15.1,6.4),(16,6.4),(16.7,6.2),(17.4,6.4),(18.2,6.4),(19.4,6.2),(20,6.4),(12.9,5.9),(13.3,5.8),(14,5.8),(14.6,5.7),(15.4,5.9),(16.1,6.1),(16.9,6.4),(18.1,6.1)]
comp_magenta = [(15,9.6),(15.4,9.9),(15.6,9.5),(15.8,9.1),(15.9,10),(16.1,9.6),(16.3,9.9),(16.4,9.3),(16.5,10.1),(16.1,9.0),(16.7,9.7),(16.9,9.3),(17,10),(17.3,9.5),(17.5,9.9),(16.7,9.1)]

# (f) D31, read cluster by cluster
d31_01 = [(3.6,26.9),(3.8,26),(4.1,27),(4.4,27.7),(4.4,26.2),(4.7,28.2),(4.9,26.9),(5,28.5),(5.2,29.2),(5.4,27.8),(5.3,26.4),(5.7,27.3),(5.8,28.6),(5.9,29.3),(6.1,26.6),(6.2,27.9),(6.4,26.9),(6.6,27.5),(6.9,28.2),(7.1,27.8),(7.2,28.5),(4.5,29.2),(6.2,26.1)]
d31_02 = [(12.8,27),(13.2,28.7),(13.3,27.9),(13.5,26.2),(13.7,27.1),(13.9,26.8),(14,27.7),(14.2,25.9),(14.4,26.6),(14.5,28),(14.7,27.3),(14.9,26.1),(15.1,27.7),(15.2,25.1),(15.4,26.8),(15.5,27.3),(15.9,27.8),(16.1,26.6),(15.3,28.1),(14.2,28.7),(14.2,25.4),(13.6,27.7)]
d31_03 = [(16.4,25.6),(16.7,25.3),(16.9,26.7),(17.2,25.1),(17.3,26.2),(17.6,24.9),(17.7,25.7),(17.9,26.7),(18,25),(18.2,25.7),(18.3,27.5),(18.3,26.2),(18.6,25.3),(18.7,26.7),(18.9,26),(19,24.9),(19.1,25.2),(18.8,26.9),(19.2,26),(19.3,26.3),(17.3,25.7),(18.4,24.7)]
d31_04 = [(19.5,27.5),(20.1,27.9),(20.5,29.7),(20.8,29.3),(20.8,27.2),(21,28.1),(21.1,26.7),(21.4,27.6),(21.6,27.3),(21.7,28.2),(22,26.5),(22.1,27.6),(22.3,28.5),(22.6,27.2),(22.8,26.2),(22.9,27.6),(23.1,29.2),(23.2,26.8),(23.4,28.6),(23.7,27.5),(20.3,26.5),(20.7,25.7),(19.9,24.5),(23.1,28)]
d31_05 = [(23.7,27.5),(24.2,27),(24.3,27.9),(24.6,26.6),(24.8,28.2),(24.9,27),(25,26.4),(25.2,27.6),(25.3,29.7),(25.4,26.7),(25.6,28.5),(25.7,27.5),(25.8,29.9),(26.1,26.7),(26.2,28.3),(26.4,27.3),(26.5,29.3),(26.8,28.1),(24.4,29.3),(27.2,28.3),(27.9,29.3),(28.7,26.7),(27.3,27),(23.3,29.3)]
d31_06 = [(8.5,25.4),(8.9,24.7),(9.1,25.8),(9.3,24.3),(9.5,23.8),(9.6,25.1),(9.7,26.1),(9.9,24.5),(10,23.2),(10.3,25.3),(10.4,24.3),(10.6,26),(10.8,25.1),(11,24),(11.2,23.4),(11.3,24.9),(11.5,25.8),(11.6,24.4),(11.8,23.9),(12,24.2),(12,26),(9.5,23.3),(10.6,23.7)]
d31_07 = [(23.4,24.9),(23.4,23.1),(23.8,24.2),(24,23.9),(24.2,25),(24.4,23.3),(24.5,26),(24.7,24.4),(24.9,23.6),(25.1,25.2),(25.2,24),(25.4,23.2),(25.7,24.6),(25.9,25.2),(26,23.8),(26.2,24.4),(26.4,25.7),(26.6,24.5),(26.9,25),(27.2,24.8),(26.4,23.5),(25.1,25.9)]
d31_08 = [(7.1,20.3),(7.3,21.3),(7.5,22.3),(7.7,20),(7.9,20.8),(8,22),(8.1,19.5),(8.2,21.2),(8.5,20),(8.6,22.2),(8.7,19),(8.9,21),(9,20.2),(9.2,21.9),(9.4,20.6),(9.5,19.4),(9.6,21.4),(9.8,20.2),(10,22.2),(10.2,20.9),(9.8,23),(10.3,20.4),(9,23)]
d31_09 = [(10.7,21.7),(11,22.2),(11.1,21),(11.2,20.6),(11.4,21.9),(11.6,21.3),(11.8,20.3),(12,22),(12.1,20.8),(12.3,21.5),(12.5,20.5),(12.7,22),(12.9,21),(13,20.4),(13.2,21.8),(13.4,20.8),(12.8,23),(13.6,21.2),(13.7,22.2),(13.9,20.3),(14,21),(11.5,19.2)]
d31_10 = [(14,21.7),(14.2,20.8),(14.3,22.3),(14.5,23.2),(14.6,21.4),(14.8,20.5),(15,22.2),(15.1,23.5),(15.2,20.3),(15.3,21.5),(15.5,22.6),(15.7,23.5),(15.8,20.9),(16,21.6),(16.2,22.4),(16.2,20.2),(16.4,23.3),(16.5,21.1),(16.7,21.8),(16.8,20.6),(17.1,22.1),(16.6,23.4),(17.3,20.8),(16,23.6),(17.4,21.8)]
d31_11 = [(25.1,22.2),(25.2,21.3),(25.6,22.6),(25.9,21.6),(26.1,20.7),(26.2,22.3),(26.5,23.4),(26.7,21.6),(26.8,20.5),(27,22.3),(27,23.1),(27.3,21),(27.5,22.4),(27.5,19.9),(27.6,23.9),(27.8,21.6),(28,20.5),(28.2,22.2),(28.3,23.5),(28.5,22.6),(28.5,21),(28.7,21.9),(27.4,19.4)]
d31_12 = [(2.9,20.6),(3.7,20.6),(3.9,21.5),(4,20),(4.2,21),(4.5,19.5),(4.7,20.8),(4.9,20),(5,21.3),(5.2,19.3),(5.4,20.4),(5.6,22),(5.7,19.9),(5.9,18.8),(6,21),(6.2,19.6),(6.3,20.5),(6.4,21.5),(6.7,20.3),(6.9,21.8),(7.1,19.5),(7.3,20.7),(6.1,18.6)]
d31_13 = [(12.1,18.1),(12.4,18.7),(12.5,17.3),(12.7,19.3),(12.9,18.1),(13,16.8),(13.2,19.4),(13.4,18),(13.6,18.9),(13.7,17.2),(14,19.3),(14.1,17.8),(14.3,18.6),(14.5,16.9),(14.7,19.1),(14.9,18.3),(14.9,16.8),(15.2,17.4),(15.4,18.5),(15.5,19.1),(15.8,18.2),(16.3,18),(15.2,16.9)]
d31_14 = [(18.6,18.4),(18.8,19.2),(19,18.2),(19.4,21),(19.5,18.6),(19.6,19.5),(19.8,17.9),(20,20.3),(20.1,19),(20.3,18.3),(20.4,21.1),(20.6,19.7),(20.7,18.3),(20.9,20.5),(21.1,19.3),(21.3,18.5),(21.3,20.1),(21.5,19.2),(21.7,19.9),(21.7,20.5),(22.1,20),(22,19.1),(21.9,22)]
d31_15 = [(25.7,18),(25.9,17.2),(26.1,18.6),(26.2,16.3),(26.5,17.4),(26.6,18.9),(26.8,16.3),(27,17.5),(27.2,19),(27.3,15.8),(27.4,18.1),(27.6,17),(27.7,15.6),(27.9,18.9),(28,16.6),(28.2,17.9),(28.3,16.1),(28.5,18),(28.6,17.2),(28.7,16.5),(27,19.3),(29.4,17.6),(27.4,19.8)]
d31_16 = [(4.2,16.8),(4.5,15.9),(4.6,17.3),(4.8,18),(5,16.6),(5.2,15.6),(5.3,18.5),(5.4,17.5),(5.6,16.1),(5.7,18),(5.8,15.2),(6,17.2),(6.2,15.4),(6.3,16.8),(6.3,17.9),(6.5,16.1),(6.7,17.2),(6.9,15.9),(7,16.6),(7.2,15.8),(7.3,18.2),(7.5,18.4),(5.1,17.3)]
d31_17 = [(20.9,17.1),(21.5,17.3),(21.6,16.1),(21.9,15.9),(22,17.2),(22.2,15.3),(22.4,16.4),(22.6,17.7),(22.8,15.7),(22.9,14.8),(23,18.3),(23.1,16.8),(23.3,15.3),(23.5,18.3),(23.6,16.1),(23.7,14.8),(23.9,17),(24,15.6),(24.3,16.2),(24.3,17.4),(24.6,18),(24.1,15),(24.5,15.3)]
d31_18 = [(7.2,15.4),(7.3,14.8),(7.5,13.6),(7.6,15.6),(7.9,14.6),(8.1,13),(8.2,15.9),(8.4,15),(8.6,14.1),(8.7,16.3),(8.9,15.2),(9.1,13.8),(9.2,16),(9.5,14.6),(9.3,13.5),(9.7,15.3),(9.7,16.6),(10,14.8),(10.1,15.5),(10.3,14.5),(8.7,15.6),(9.9,14.2)]
d31_19 = [(10.2,14.6),(10.4,13.7),(10.6,15),(10.8,14.2),(11,13.3),(11.1,15.8),(11.3,14.5),(11.5,13.3),(11.7,16),(11.8,14.8),(11.8,13),(12,15.3),(12.2,14),(12.4,15.9),(12.4,13.2),(12.6,14.8),(12.7,13.8),(12.9,13.1),(13,14.7),(13.2,15.5),(13.2,13.6),(13.6,14),(13.4,14.9),(13.5,13.5)]
d31_20 = [(14.5,14.3),(14.9,15),(15,16.1),(15.1,14.2),(15.3,13.4),(15.4,15.7),(15.5,16.5),(15.6,14.7),(15.8,13),(16,15.8),(16.1,14.2),(16.3,13.5),(16.3,16.3),(16.5,15.2),(16.7,14.3),(16.9,13.3),(17,15.8),(17,16.5),(17.2,14.7),(17.3,13.3),(17.4,15.3),(17.7,14.4),(17.8,15.5),(16.2,17)]
d31_21 = [(24.4,14.6),(24.8,15.4),(24.9,13.9),(25.1,13.2),(25.3,14.9),(25.5,15.6),(25.6,14.2),(25.9,13.4),(26,15.2),(26.2,14.1),(26.4,13.2),(26.6,15.5),(26.7,14.6),(26.9,13.7),(27.1,15.2),(27.2,14.2),(27.5,14.8),(27.7,13.6),(27.9,14.4),(26.1,15.8),(26.8,16.4),(27.9,13.3)]
d31_22 = [(15.7,11.2),(16,12.1),(16.2,10.9),(16.4,11.5),(16.6,12.7),(16.7,10.9),(16.9,12),(17,13),(17.1,11.3),(17.3,10.5),(17.5,12.3),(17.6,9.9),(17.8,11.1),(17.9,12.9),(18.1,10.6),(18.2,12),(18.4,11.4),(18.4,9.9),(18.6,10.4),(18.8,12),(19,11.4),(19.4,11.5),(19.4,12.5),(18.6,12.6)]
d31_23 = [(21.5,11.5),(21.7,12.8),(21.9,11.2),(22.1,12.2),(22.2,10.5),(22.4,13.3),(22.6,11.6),(22.7,10.1),(22.9,12.7),(23.1,11.2),(23.1,13.6),(23.3,10.3),(23.5,12.3),(23.7,11.5),(23.8,13.3),(24,10.7),(24.1,12.2),(24.2,11.2),(24.5,11.7),(24.2,13),(20.4,10.9),(21.3,13)]
d31_24 = [(3.7,10.7),(4,10.1),(4.1,11.1),(4.3,9.2),(4.4,10.4),(4.5,11.7),(4.7,9.7),(4.8,8.9),(4.8,11.1),(5,10.2),(5.1,11.5),(5.2,9.1),(5.4,10.7),(5.5,9.7),(5.6,11.8),(5.8,10.3),(5.9,9.3),(6,11.2),(6.2,10.2),(6.4,9.4),(6.5,10),(7,9.4),(4.8,8.1),(6.3,11.6)]
d31_25 = [(6.9,9.9),(7,10.9),(7.2,11.5),(7.4,10.2),(7.5,9.1),(7.6,11.9),(7.8,10.7),(7.9,8.7),(8.1,10),(8.2,11.4),(8.4,9.3),(8.6,10.8),(8.7,9),(8.8,11.9),(9,10),(9.2,11.1),(9.3,9),(9.4,12),(9.6,10.3),(9.8,11.1),(9.7,9.5),(9.5,12.4),(9.9,10.5),(9,8.5)]
d31_26 = [(24.8,10.4),(25,9.6),(25.3,11.4),(25.4,10),(25.7,9.2),(25.8,10.7),(26,8.1),(26.2,9.9),(26.4,10.8),(26.5,9.2),(26.7,11.8),(26.8,10.2),(26.9,8.2),(27,11.1),(27.2,9.6),(27.3,12.4),(27.3,9),(27.5,10.4),(27.7,11.7),(27.9,10.3),(28,10.9),(28.2,10.7),(29.7,9.7),(26.5,12.7)]
d31_27 = [(9.6,8),(9.8,8.8),(10.1,7.7),(10.3,8.5),(10.5,7.2),(10.6,9.2),(10.9,8),(10.9,6.8),(11.2,9.8),(11.3,7.4),(11.5,8.7),(11.7,6.8),(11.8,9.7),(11.9,7.8),(12.2,8.5),(12.2,7),(12.4,9.1),(12.6,7.4),(12.7,8),(13,7.9),(12.3,9.9),(13,6.6),(9.1,8.4),(12.9,7.4)]
d31_28 = [(13.9,9.6),(14.1,10.1),(14.2,9.1),(14.4,8.7),(14.5,7.1),(14.7,9.6),(14.8,8.2),(15,10.2),(15.2,9),(15.4,8),(15.5,10),(15.7,8.9),(15.9,7.9),(16,9.6),(16.2,8.7),(16.4,10.1),(16.5,9.1),(16.8,8.4),(16.9,9.6),(17,10.6),(14.1,10.7),(14.6,11.5),(15.6,11.8)]
d31_29 = [(21.4,8.8),(21.6,7.9),(21.9,9.6),(22.1,8.6),(22.2,7.4),(22.4,9.3),(22.6,8.3),(22.8,9.9),(22.9,7.5),(23.2,8.8),(23.3,9.7),(23.5,7.9),(23.7,8.6),(23.9,9.2),(24.1,7.8),(24.2,8.6),(24.5,8.2),(24.7,7.6),(24.8,9),(23.7,7.2),(25,7.4),(25.4,8),(21.7,7)]
d31_30 = [(20,6.2),(20.3,7.2),(20.6,5.9),(20.8,6.3),(21,5.5),(21.2,5.4),(21.4,6.6),(21.6,4.4),(21.7,3.8),(21.8,5.7),(22,7.1),(22.1,4.8),(22.3,6.2),(22.4,5.3),(22.6,4.1),(22.8,6.8),(22.9,5.7),(23.1,4.4),(23.3,6.5),(23.5,5.3),(23.6,6.8),(23.8,6.2),(24,5.1),(24.3,6.3)]
d31_31 = [(24,5.6),(24.3,4.9),(24.5,6.3),(24.7,5.3),(24.9,4.5),(25.1,6.8),(25.2,5.7),(25.5,4.8),(25.7,7.2),(25.8,6),(26.1,5.2),(26.2,7.5),(26.4,6.2),(26.5,4.9),(26.7,6.8),(26.8,5.5),(26.9,4.5),(27.1,7.7),(27.2,6),(27.4,5.6),(27.6,6.5),(27.9,5.7),(28.3,6.2),(26.8,4.7)]

# (g) flame
flame_red = [(1.85,27.85),(1.35,26.65),(6.5,27.6),(7.45,27.6),(8.35,27.35),(9.2,27.2),(6.9,27.15),(6.1,26.9),(5.2,26.75),(4.55,26.65),(6.6,26.6),(7.7,26.6),(9.0,26.6),(9.95,26.5),(8.15,26.35),(6.5,26.1),(5.55,26.1),(7.4,26.2),(9.55,26.05),(3.9,25.95),(7.0,25.85),(6.1,25.8),(8.0,25.8),(8.8,25.8),(7.4,25.65),(10.55,25.6),(5.0,25.55),(6.65,25.45),(9.2,25.35),(3.75,25.25),(5.55,25.25),(6.2,25.2),(7.35,25.25),(7.85,25.3),(8.3,25.2),(4.6,25.1),(6.8,25.05),(9.9,24.95),(7.5,24.85),(8.8,24.8),(8.0,24.7),(6.2,24.65),(5.55,24.5),(9.2,24.5),(6.85,24.5),(7.3,24.4),(3.95,24.4),(4.55,24.15),(8.5,24.15),(10.35,24.1),(6.1,24.05),(5.5,24.0),(7.95,24.05),(6.75,23.95),(7.3,23.75),(8.9,23.7),(9.55,23.65),(6.5,23.6),(5.05,23.55),(4.1,23.45),(5.7,23.4),(8.3,23.4),(6.2,23.25),(7.55,23.2),(6.85,23.0),(8.8,22.95),(9.7,22.95),(8.0,22.95),(5.3,22.8),(7.35,22.6),(4.6,22.55),(6.1,22.5),(6.75,22.4),(8.45,22.3),(5.65,22.2),(7.8,22.1),(9.3,22.0),(6.2,21.95),(7.15,21.7),(7.9,21.6),(8.3,21.45),(6.65,21.3),(7.55,21.2),(6.1,20.7),(7.0,20.7),(8.55,20.6),(9.3,20.5)]
flame_cyan = [(0.5,22.35),(0.8,23.05),(1.35,23.25),(1.35,22.65),(1.95,22.8),(2.4,22.5),(1.05,22.05),(1.8,22.05),(2.5,21.85),(0.6,21.4),(1.35,21.45),(1.9,21.25),(2.95,21.4),(1.35,20.9),(2.45,21),(1.25,20.35),(2,20.6),(3.05,20.5),(3.7,20.5),(1.75,20.05),(2.4,20.05),(3.4,19.9),(4.45,19.9),(3.95,19.6),(2.4,19.4),(2.95,19.5),(1.7,19.05),(3.25,19.05),(4,19.05),(4.6,19.15),(5.2,19.25),(2.85,18.75),(3.75,18.55),(4.85,18.5),(5.65,18.55),(2.4,18.25),(5.2,18.25),(3.4,18.05),(4.3,18.05),(6.05,18.2),(2.7,17.8),(4.8,17.65),(5.65,17.8),(3.3,17.3),(4.25,17.4),(6.1,17.45),(5.4,17.15),(4.4,16.95),(6.55,17.65),(6.7,17.25),(3.7,16.3),(5.05,16.55),(5.95,16.8),(6.7,16.8),(6.25,16.35),(6.8,16.3),(4.55,16.05),(5.6,15.95),(7.3,16.6),(7.4,16.15),(7.95,16.1),(7.3,15.8),(8.45,16.05),(9.1,15.95),(6.55,15.7),(4.95,15.45),(5.6,15.25),(8.25,15.45),(8.85,15.35),(9.55,15.25),(7.4,15.05),(6.8,14.95),(5.85,14.75),(6.85,14.45),(7.55,14.6),(8.5,14.6),(8,16.5),(8.65,16.6),(7.3,17.25),(7.75,17),(8.4,17.05),(8.9,17.05),(9.45,16.6),(9.8,17.05),(10.25,15.95),(10.45,17.2),(10.75,16.6),(8,17.45),(8.65,17.7),(9.35,17.6),(7.55,17.7),(7.1,17.8),(10.15,17.7),(11.05,17.65),(11.65,17.45),(9.85,18.15),(10.4,18.25),(11.25,18.35),(11.95,18.25),(9,18.25),(8.4,18.1),(7.85,18.3),(7.3,18.35),(6.65,18.3),(9.3,18.7),(8.45,18.8),(10,18.95),(10.55,18.95),(11.15,19),(11.95,18.85),(12.6,18.95),(7.95,19.35),(7.3,19.15),(6.5,18.95),(9.15,19.15),(10.3,19.4),(11.05,19.45),(11.8,19.45),(12.5,19.75),(6.05,19.55),(9.9,19.75),(10.45,20),(11.95,20.05),(13.05,19.9),(6.75,19.9),(7.7,20.05),(5.2,20.35),(11.2,20.25),(12.35,20.5),(11.7,20.6),(12.95,20.55),(10.85,20.85),(5.2,21.1),(11.4,21.25),(12.05,21.25),(12.55,20.95),(12.8,21.5),(13.55,21),(13.6,21.6),(11.75,22.1),(12.25,21.85),(12.5,22.25),(12.95,22.05),(13.55,22.2),(14.05,22.25),(12.2,22.85),(13,22.7),(13.5,22.8),(12.7,23.35),(13.35,23.5),(13.3,24),(14.05,23.6),(14.15,23.05)]

# (h) jain's toy problem
jain_cyan = [(0.8,15.6),(0.9,17.4),(3.2,15.4),(3.4,19.7),(2.9,21.8),(2.9,21.1),(3.9,21.8),(4.4,20),(4.1,18.7),(4.6,18.2),(5.0,15.6),(5.2,17.9),(5.2,14.2),(5.4,15.8),(4.5,23.9),(5.1,24.3),(5.2,23.4),(5.6,21.8),(5.9,20.5),(6.1,22.2),(6.6,21.8),(7,19.9),(7.1,18.6),(7.2,14.5),(7.6,16.5),(8.1,26.4),(9.2,21.1),(9.8,25.5),(10.1,27.7),(11.2,22.8),(11.7,26.8),(12.2,21.5),(12.2,20.9),(12.5,27.5),(12.6,23.1),(12.7,22.1),(13.2,21.8),(13.2,23.5),(13.3,27.9),(13.8,27.8),(13.7,22.0),(14.1,22.7),(14,21.5),(14.2,26.5),(14.2,22.2),(14.4,22.6),(14.3,26.9),(15.1,24.7),(15.1,24.2),(15.8,21.4),(16.6,21.1),(16.6,27),(17,26.8),(17.2,24.8),(17.6,20.8),(17.7,24.9),(17.7,25.2),(18,22.3),(18.1,21),(18.4,20.2),(18.7,22.3),(18.9,24.7),(19.2,25.3),(19.2,21.9),(19.4,18.7),(19.6,19),(19.5,22.1),(19.9,20.3),(20.1,21.5),(20.2,20.9),(21.1,18.2),(21.3,22.3),(21.4,25.8),(21.6,17.2),(21.6,16.7),(21.7,16.3),(21.6,15.5),(22.1,20.3),(22.4,18),(22.6,16.5),(22.9,23.7),(23,18),(23.1,14.6),(23.3,24.1),(23.3,19),(23.6,19.8),(23.5,15.2),(24,20.2),(24,17.7),(24.2,22.9),(24.2,14.9),(24.6,14.7),(25.2,19.8),(25.6,19.5),(25.9,17.5),(27.6,15.6)]
jain_red = [(14.1,17.4),(14.2,16.9),(14.2,15.8),(14.9,15.1),(15.4,15.6),(15.2,12),(15.2,11.7),(15.9,13.1),(16,16.5),(16,14.3),(16.2,12.3),(16.4,15),(16.6,17),(16.7,16.2),(16.7,13.9),(16.8,11.9),(16.8,11.3),(16.9,10.9),(16.9,9.7),(17,14.9),(17.3,17),(17.2,16.3),(17.2,14.1),(17.3,13),(17.2,12.2),(17.3,9.6),(17.6,15.2),(17.6,11.3),(17.6,10.3),(17.7,8.3),(17.9,14.2),(17.9,14.9),(18,10),(18,7.8),(18,7.5),(18.3,11.9),(18.4,8.4),(18.6,10),(18.5,7),(18.8,12.3),(18.9,11.2),(19,8.4),(19.1,7.8),(19,6.8),(19.1,12),(19.3,9.5),(19.5,8.9),(19.5,6.9),(19.6,8.1),(20,9.9),(20.1,8.8),(20.2,8.3),(20.1,7.2),(20.2,6),(20.6,8.7),(20.6,6.9),(20.6,5.1),(21,8.2),(21.2,7),(21.1,6.4),(21.4,5),(21.4,6),(21.6,8.8),(21.9,4.8),(21.9,8.4),(22,6.7),(22.2,8.1),(22.3,5.6),(22.3,4.5),(22.6,7.7),(22.6,6.6),(22.7,5.1),(22.9,4),(23,5.9),(23.1,4.9),(23.3,3.8),(23.4,5.2),(23.5,5.8),(23.5,3.6),(23.7,4.8),(23.8,7.1),(23.9,3.7),(24.1,5.9),(24.3,4.4),(24.4,7),(24.5,6.1),(24.7,4),(25,6.3),(25,3.7),(25.2,4.8),(25.3,3.4),(25.4,5.7),(25.5,6.5),(25.6,3.3),(25.7,4.1),(26.1,3.8),(26.3,6.4),(26.5,4.4),(26.7,5.7),(27,4.6),(27,3),(27.3,6),(27.5,3.2),(27.6,5),(27.9,5.3),(27.9,3.2),(28.2,3.6),(28.6,5.7),(28.8,5.4),(28.9,4.7),(29,4.1),(29.3,4.5),(29.5,6.3),(29.7,4.4),(29.9,3.8),(30,3.5),(30.2,6.5),(30.3,4.6),(30.6,3.4),(30.8,6.1),(30.8,4),(31,4.4),(31,5.2),(31.3,3.9),(31.6,6.4),(32.2,7),(32.2,5),(32.5,4.2),(32.7,6.9),(32.7,7.9),(32.8,5.1),(33,6.5),(33.1,4.1),(33.5,7.5),(33.7,6.1),(33.7,5.6),(34.2,5.3),(34.3,4.8),(34.4,7.2),(34.4,6.2),(34.7,7.7),(34.9,5.7),(35.1,7.1),(35.1,9),(35.5,7.9),(35.5,6.3),(35.9,9.3),(36.1,10),(36.2,7.9),(36.3,7.2),(36.6,8.3),(36.7,9.3),(36.8,10.8),(36.9,7.4),(37,6.8),(37.2,9.2),(37.3,10.9),(37.4,12.2),(37.6,10),(37.9,11.5),(38,7.4),(38,12.8),(38.1,13.3),(38.4,7.6),(38.5,11.7),(38.7,10),(38.9,12.9),(39.1,14.4),(39.1,10.5),(39.2,12.1),(39.3,9.5),(39.5,14.2),(39.3,17.3),(39.4,16.5),(39.8,15.5),(40,13.1),(40.2,16.8),(40.3,15.5),(40.5,14.2),(40.4,12.4),(40.5,11.8),(40.7,16.2),(40.9,16.9),(41,12.6),(41.1,12.2),(41.2,14.9),(41.4,16.4),(41.5,14.5),(41.6,13.1),(41.8,16.9),(42,15.6),(42.2,15.1),(42.4,17),(42.6,15.3),(41.3,11.8),(41,14)]

# (a)-(h) panel setup
captions = ["(a) Crescent Full Moon", "(b) Half Kernel", "(c) Pin Wheel", "(d) Aggregation",
            "(e) Compound", "(f) D31", "(g) Flame", "(h) Jain's toy problem"]
x_ticks = [[-15,-10,-5,0,5,10,15], [-10,0,10,20,30,40,50], [-2,-1.5,-1,-0.5,0,0.5,1,1.5,2], list(range(0,45,5)),
           list(range(5,50,5)), list(range(0,35,5)), [0,5,10,15], list(range(0,50,5))]
y_ticks = [[-15,-10,-5,0,5,10,15,20], [-30,-20,-10,0,10,20,30], [-2,-1.5,-1,-0.5,0,0.5,1,1.5,2], list(range(0,35,5)),
           [5,10,15,20,25], list(range(0,35,5)), list(range(14,30,2)), list(range(0,35,5))]

moon = [(moon_purple,"#6a0fd0"),(moon_green,"#66e600"),(moon_cyan,"#00e6e6"),(moon_red,"#e60000")]
kernel = [(kernel_red,"#e60000"),(kernel_cyan,"#00e6e6"),(kernel_green,"#70e000"),(kernel_purple,"#7a10e0")]
wheel = [(wheel_blue,"#0060e6"),(wheel_magenta,"#c000e6"),(wheel_green,"#00e660"),(wheel_yellow,"#c8ee00"),(wheel_red,"#ee0000")]
agg = [(agg_yellow,"#f0c000"),(agg_red,"#e60000"),(agg_blue_top,"#3a00d0"),(agg_magenta,"#e600b0"),(agg_blue_low,"#0080f0"),(agg_teal,"#00e68a"),(agg_green,"#44e600")]
comp = [(comp_green,"#00e600"),(comp_cyan,"#00e6e6"),(comp_red,"#e60000"),(comp_yellow,"#f0f000"),(comp_blue,"#0000e0"),(comp_magenta,"#f000e0")]
d31 = [(d31_01,"#0a50e0"),(d31_02,"#0000d8"),(d31_03,"#66e000"),(d31_04,"#c8e800"),(d31_05,"#4a00d8"),(d31_06,"#e600a0"),
       (d31_07,"#f08000"),(d31_08,"#0030e0"),(d31_09,"#40e000"),(d31_10,"#f00080"),(d31_11,"#7000d8"),(d31_12,"#f0b000"),
       (d31_13,"#98e000"),(d31_14,"#00e6a0"),(d31_15,"#0090e8"),(d31_16,"#f00030"),(d31_17,"#c000e0"),(d31_18,"#00e0d0"),
       (d31_19,"#00d8f0"),(d31_20,"#00e070"),(d31_21,"#10e040"),(d31_22,"#f04000"),(d31_23,"#e000e0"),(d31_24,"#f00060"),
       (d31_25,"#f06000"),(d31_26,"#f0e000"),(d31_27,"#0070e8"),(d31_28,"#20e020"),(d31_29,"#00e800"),(d31_30,"#9000d8"),(d31_31,"#f00000")]
flame = [(flame_red,"#e60000"),(flame_cyan,"#00e6e6")]
jain = [(jain_cyan,"#00e6e6"),(jain_red,"#e60000")]
panels = [moon, kernel, wheel, agg, comp, d31, flame, jain]
marker_area = [14, 14, 14, 14, 14, 21, 14, 14]

sns.set_theme(style="white")
plt.rcParams["font.family"] = ["Liberation Sans", "DejaVu Sans"]

W, H = 1420, 642
fig = plt.figure(figsize=(W/100, H/100), dpi=100)

# grey watermark behind the panels, in pixels
watermark = [
    [(523,267),(534,256),(545,256),(488,315),(503,330),(467,330)],
    [(523,267),(536,256),(546,256),(603,307),(613,295),(622,277),(623,256),(629,256),(629,267),(623,287),(610,305),(586,330),(570,318)],
    [(530,302),(551,322),(547,325),(539,316),(520,330),(510,330)],
    [(565,318),(568,318),(576,330),(568,330)],
    [(697,118),(709,130),(710,147),(697,136)],
    [(697,162),(710,197),(697,193)],
    [(331,475),(343,463),(343,471),(331,482)],
    [(331,494),(343,510),(343,523),(331,512)],
    [(276,596),(300,596),(317,596),(337,587),(343,582),(343,590),(327,605),(307,610),(290,607)],
    [(213,596),(225,596),(217,607),(213,623),(215,642),(203,642),(202,620),(204,610)],
    [(290,623),(293,623),(293,642),(286,642)],
]
for pts in watermark:
    fig.add_artist(Polygon([(x/W, 1-y/H) for x, y in pts], closed=True, fc="#b4b4b4", ec="none",
                           transform=fig.transFigure, zorder=0))

lefts = [23, 389, 757, 1123]
rights = [297, 663, 1029, 1396]
tops = [10, 351]
bottoms = [227, 567]
cap_y = [286, 625]
cap_x = [158, 525, 891, 1257, 158, 524, 891, 1257]

for i, clusters in enumerate(panels):
    row, col = i // 4, i % 4
    l, r, t, b = lefts[col], rights[col], tops[row], bottoms[row]
    ax = fig.add_axes([l/W, 1-b/H, (r-l)/W, (b-t)/H], zorder=2)
    frames = []
    for pts, color in clusters:
        part = pd.DataFrame(pts, columns=["x", "y"])
        part["c"] = color
        frames.append(part)
    df = pd.concat(frames, ignore_index=True)
    palette = {c: c for _, c in clusters}
    sns.scatterplot(data=df, x="x", y="y", hue="c", palette=palette, s=marker_area[i], edgecolor="#222222",
                    linewidth=0.6, legend=False, ax=ax, zorder=3)
    ax.set_xlim(x_ticks[i][0], x_ticks[i][-1])
    ax.set_ylim(y_ticks[i][0], y_ticks[i][-1])
    ax.set_xticks(x_ticks[i], [f"{v:g}" for v in x_ticks[i]])
    ax.set_yticks(y_ticks[i], [f"{v:g}" for v in y_ticks[i]])
    ax.set_xlabel("")
    ax.set_ylabel("")
    ax.grid(True, color="#e4e4e4", lw=0.9)
    ax.set_axisbelow(True)
    ax.tick_params(direction="in", length=2, width=0.7, color="#666666", labelcolor="#555555",
                   labelsize=7.6, top=True, right=True, pad=3)
    for s in ax.spines.values():
        s.set_color("#777777")
        s.set_linewidth(0.9)
    fig.text(cap_x[i]/W, 1-cap_y[row]/H, captions[i], family="cmr10", fontsize=15.7, color="#111111",
             ha="center", va="center", zorder=4)

fig.savefig("out.png", dpi=100)
